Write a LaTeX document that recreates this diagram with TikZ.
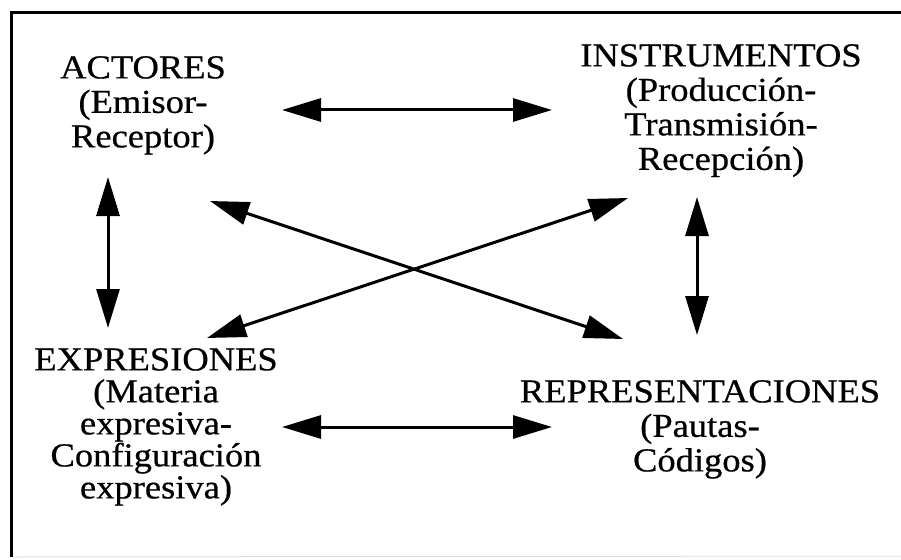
\documentclass[tikz,border=0pt]{standalone}
\usepackage{fontspec}
\setmainfont{Liberation Serif}[FakeStretch=1.09,FakeBold=0.6]
\usetikzlibrary{arrows.meta}
\tikzset{
  lbl/.style={align=center, inner sep=0pt, anchor=north, font=\fontsize{33.5}{34.5}\selectfont},
  lbltight/.style={lbl, font=\fontsize{33.5}{32}\selectfont},
  dbl/.style={line width=3pt, {Triangle[length=39pt,width=23pt]}-{Triangle[length=39pt,width=23pt]}},
  frameline/.style={line width=3pt},
  faintline/.style={line width=1pt, black!12}
}
\begin{document}
\begin{tikzpicture}[x=1pt,y=-1pt]
  \useasboundingbox (0,0) rectangle (901,559);
  % frame
  \coordinate (fTL) at (11,12.8);
  \coordinate (fTR) at (901,12.8);
  \coordinate (fBL) at (11,557);
  \coordinate (fBR) at (901,556);
  \draw[faintline] (fBL) -- (fBR);
  \draw[frameline] (fBL) -- (fTL) -- (fTR);
  % nodes
  \node[lbl] (act) at (143,56) {ACTORES\\(Emisor-\\Receptor)};
  \node[lbl] (ins) at (721,44) {INSTRUMENTOS\\(Producción-\\Transmisión-\\Recepción)};
  \node[lbltight] (exp) at (156,348) {EXPRESIONES\\(Materia\\expresiva-\\Configuración\\expresiva)};
  \node[lbl] (rep) at (700,380) {REPRESENTACIONES\\(Pautas-\\Códigos)};
  % arrow end points
  \coordinate (act-e) at (282,110);
  \coordinate (ins-w) at (552,110);
  \coordinate (exp-e) at (282,427);
  \coordinate (rep-w) at (552,427);
  \coordinate (act-s) at (108,177);
  \coordinate (exp-n) at (108,328);
  \coordinate (ins-s) at (697,197);
  \coordinate (rep-n) at (697,335);
  \coordinate (act-se) at (210,201);
  \coordinate (rep-nw) at (623,339);
  \coordinate (exp-ne) at (207,338);
  \coordinate (ins-sw) at (628,198);
  % connectors
  \draw[dbl] (act-e) -- (ins-w);
  \draw[dbl] (exp-e) -- (rep-w);
  \draw[dbl] (act-s) -- (exp-n);
  \draw[dbl] (ins-s) -- (rep-n);
  \draw[dbl] (act-se) -- (rep-nw);
  \draw[dbl] (exp-ne) -- (ins-sw);
\end{tikzpicture}
\end{document}
